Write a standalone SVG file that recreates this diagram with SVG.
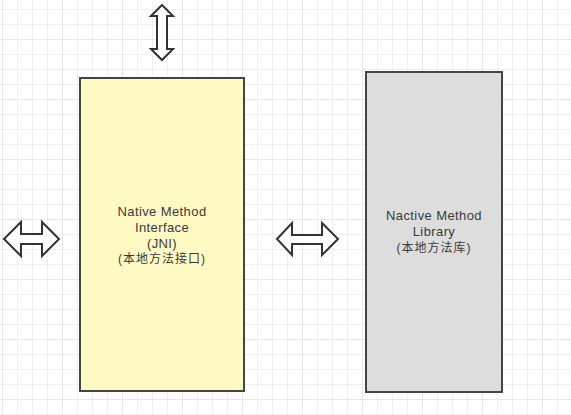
<svg xmlns="http://www.w3.org/2000/svg" width="571" height="415" viewBox="0 0 571 415">
<defs>
<pattern id="minor" width="15" height="15" patternUnits="userSpaceOnUse" x="2" y="9">
<path d="M0.5 0V15M0 0.5H15" fill="none" stroke="#efefef" stroke-width="1"/>
</pattern>
<pattern id="major" width="60" height="60" patternUnits="userSpaceOnUse" x="2" y="39">
<path d="M0.5 0V60M0 0.5H60" fill="none" stroke="#e6e6e6" stroke-width="1"/>
</pattern>
</defs>
<style>
.box{stroke:#444;stroke-width:2}
.arrow{fill:#fff;stroke:#333;stroke-width:2;stroke-linejoin:miter}
.lbl{font-family:"Liberation Sans","Noto Sans CJK SC",sans-serif;font-size:13px;letter-spacing:0.4px;fill:#3a3a3a;text-anchor:middle}
.cjk{font-size:12px;letter-spacing:1px}
</style>
<rect width="571" height="415" fill="#fff"/>
<rect width="571" height="415" fill="url(#minor)"/>
<rect width="571" height="415" fill="url(#major)"/>
<g id="connectors">
<polygon id="arrow-top" class="arrow" points="162,5 173,16 167,16 167,49 173,49 162,60 151,49 157,49 157,16 151,16"/>
<polygon id="arrow-left" class="arrow" points="4,239 21,222 21,234 42,234 42,222 59,239 42,256 42,244 21,244 21,256"/>
<polygon id="arrow-middle" class="arrow" points="277,239 292,223 292,235 322,235 322,223 338,239 322,255 322,244 292,244 292,255"/>
</g>
<g id="jni">
<rect class="box" x="80" y="78" width="164" height="313" fill="#fff9c4"/>
<text class="lbl" x="162" y="216">Native Method</text>
<text class="lbl" x="162" y="232">Interface</text>
<text class="lbl" x="162" y="248">(JNI)</text>
<text class="lbl cjk" x="162" y="263">(本地方法接口)</text>
</g>
<g id="library">
<rect class="box" x="366" y="72" width="136" height="320" fill="#dddddd"/>
<text class="lbl" x="434" y="220">Nactive Method</text>
<text class="lbl" x="434" y="236">Library</text>
<text class="lbl cjk" x="434" y="252">(本地方法库)</text>
</g>
</svg>
